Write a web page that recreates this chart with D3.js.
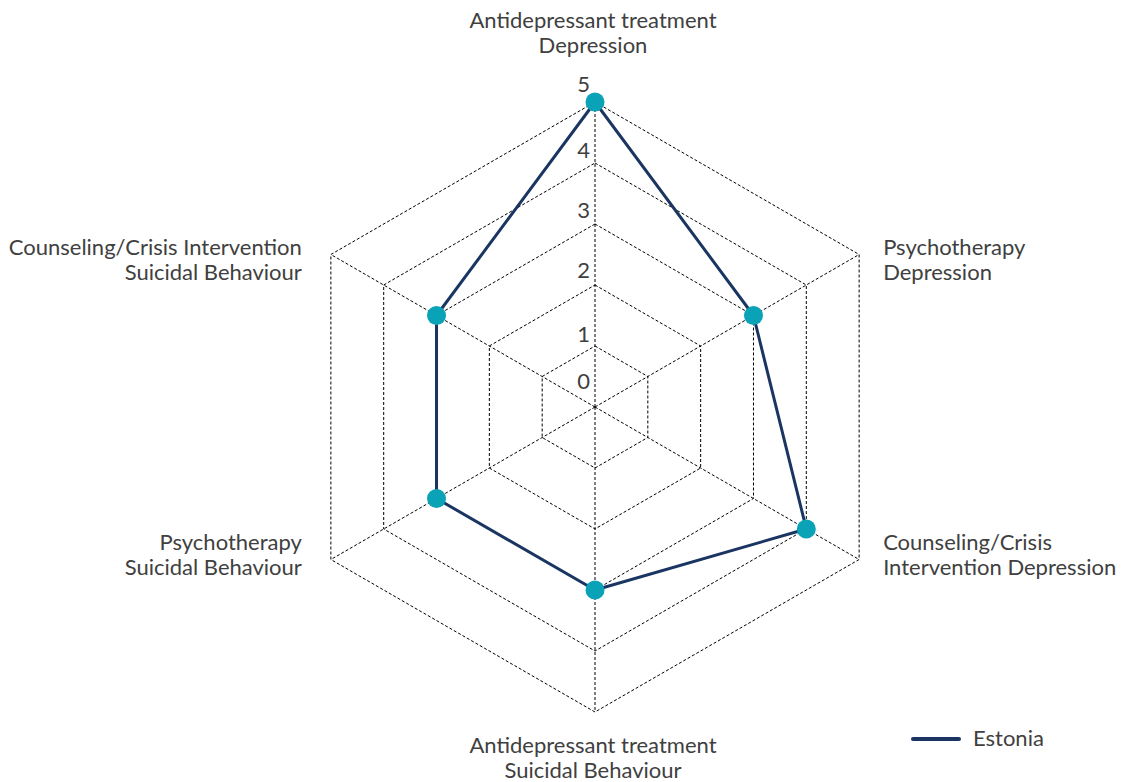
<!DOCTYPE html>
<html>
<head>
<meta charset="utf-8">
<script src="https://cdn.jsdelivr.net/npm/d3@7"></script>
<style>
  html, body { margin: 0; padding: 0; background: #fff; }
  svg { display: block; }
  text { font-family: Lato, "Open Sans", sans-serif; fill: #404040; }
</style>
</head>
<body>
<svg id="chart" width="1121" height="782"></svg>
<script>
const categories = [
  ["Antidepressant treatment", "Depression"],
  ["Psychotherapy", "Depression"],
  ["Counseling/Crisis", "Intervention Depression"],
  ["Antidepressant treatment", "Suicidal Behaviour"],
  ["Psychotherapy", "Suicidal Behaviour"],
  ["Counseling/Crisis Intervention", "Suicidal Behaviour"]
];
const seriesName = "Estonia";
const values = [5, 3, 4, 3, 3, 3];
const ticks = [0, 1, 2, 3, 4, 5];

const svg = d3.select("#chart");
const cx = 595, cy = 407, R = 305;
const r = d3.scaleLinear().domain([0, 5]).range([0, R]);
const n = categories.length;
const angle = i => -Math.PI / 2 + i * 2 * Math.PI / n;
const pt = (i, v) => [cx + r(v) * Math.cos(angle(i)), cy + r(v) * Math.sin(angle(i))];

const grid = svg.append("g");
ticks.filter(t => t > 0).forEach(t => {
  grid.append("path")
    .attr("d", d3.line()(d3.range(n).map(i => pt(i, t))) + "Z")
    .attr("fill", "none").attr("stroke", "#000").attr("stroke-width", 1)
    .attr("stroke-dasharray", "3,2");
});
d3.range(n).forEach(i => {
  const [x, y] = pt(i, 5);
  grid.append("line").attr("x1", cx).attr("y1", cy).attr("x2", x).attr("y2", y)
    .attr("stroke", "#000").attr("stroke-width", 1).attr("stroke-dasharray", "3,2");
});

const tickOffset = {0: 18, 1: 4, 2: 7, 3: 6, 4: 5, 5: 10};
svg.append("g").selectAll("text").data(ticks).join("text")
  .attr("x", cx - 5).attr("y", d => cy - r(d) - tickOffset[d])
  .attr("text-anchor", "end").attr("font-size", 22).text(d => d);

const lab = svg.append("g").attr("font-size", 22);
categories.forEach((lines, i) => {
  const [vx, vy] = pt(i, 5);
  const c = Math.cos(angle(i)), s = Math.sin(angle(i));
  let x, y0, anchor;
  const lh = 25;
  if (Math.abs(c) < 0.01) {
    anchor = "middle"; x = vx - 2;
    if (s < 0) y0 = vy - 49 - lh; else y0 = vy + 41;
  } else {
    anchor = c > 0 ? "start" : "end";
    x = vx + (c > 0 ? 24 : -29);
    y0 = vy + (s < 0 ? 0 : -10);
  }
  const t = lab.append("text").attr("text-anchor", anchor);
  lines.forEach((ln, k) => t.append("tspan").attr("x", x).attr("y", y0 + k * lh).text(ln));
});

const pts = values.map((v, i) => pt(i, v));
svg.append("path").attr("d", d3.line()(pts) + "Z")
  .attr("fill", "none").attr("stroke", "#1b3563").attr("stroke-width", 3)
  .attr("stroke-linejoin", "round");
svg.append("g").selectAll("circle").data(pts).join("circle")
  .attr("cx", d => d[0]).attr("cy", d => d[1]).attr("r", 9.5)
  .attr("fill", "#0aa2b6");

const lg = svg.append("g");
lg.append("line").attr("x1", 913).attr("x2", 959).attr("y1", 739).attr("y2", 739)
  .attr("stroke", "#1b3563").attr("stroke-width", 4).attr("stroke-linecap", "round");
lg.append("text").attr("x", 973).attr("y", 746).attr("font-size", 22).text(seriesName);
</script>
</body>
</html>
